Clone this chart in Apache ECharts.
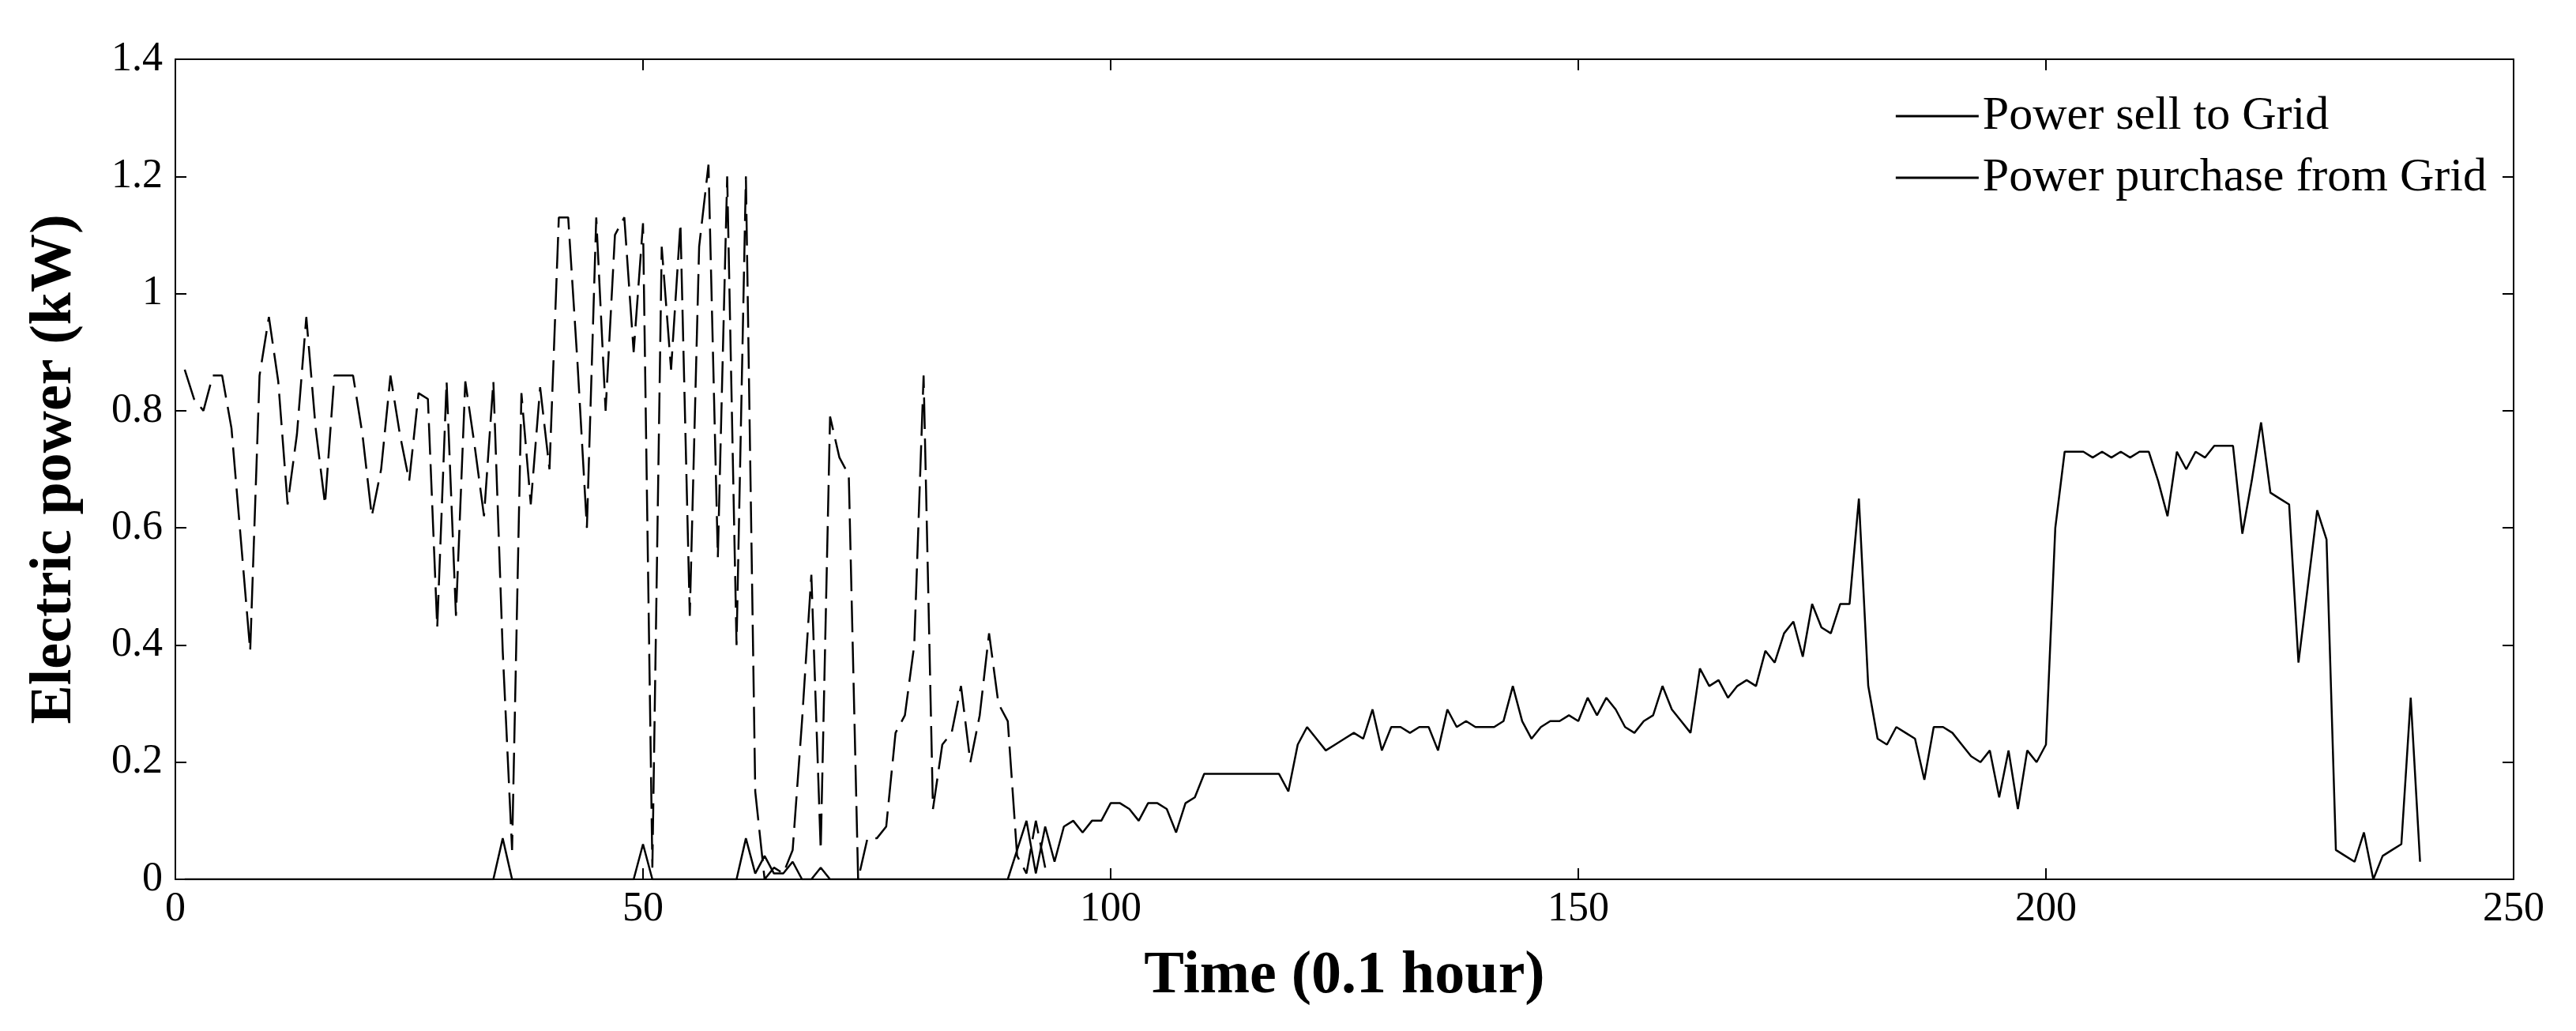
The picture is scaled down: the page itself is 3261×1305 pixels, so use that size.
<!DOCTYPE html>
<html>
<head>
<meta charset="utf-8">
<script src="https://cdn.jsdelivr.net/npm/echarts@6/dist/echarts.min.js"></script>
<style>html,body{margin:0;background:#fff}#chart{width:3261px;height:1305px}</style>
</head>
<body>
<div id="chart"></div>
<script>
// power sold to grid, time steps 1..93 (zero afterwards)
var sellValues = [0.87,0.82,0.80,0.86,0.86,0.77,0.58,0.39,0.86,0.96,
  0.85,0.64,0.76,0.96,0.77,0.64,0.86,0.86,0.86,0.76,
  0.62,0.70,0.86,0.76,0.68,0.83,0.82,0.43,0.85,0.45,
  0.85,0.74,0.62,0.85,0.39,0.05,0.83,0.64,0.84,0.70,
  1.13,1.13,0.88,0.60,1.13,0.80,1.10,1.13,0.90,1.12,
  0.02,1.08,0.87,1.12,0.45,1.08,1.22,0.55,1.20,0.40,
  1.20,0.15,0.00,0.02,0.01,0.05,0.27,0.52,0.05,0.79,
  0.72,0.69,0.00,0.07,0.07,0.09,0.25,0.28,0.40,0.86,
  0.12,0.23,0.25,0.33,0.20,0.28,0.42,0.30,0.27,0.04,
  0.01,0.10,0.02];
// power purchased from grid, time steps 1..240
var buyValues = [0,0,0,0,0,0,0,0,0,0, 0,0,0,0,0,0,0,0,0,0,
  0,0,0,0,0,0,0,0,0,0, 0,0,0,0,0.07,0,0,0,0,0,
  0,0,0,0,0,0,0,0,0,0.06, 0,0,0,0,0,0,0,0,0,0,
  0.07,0.01,0.04,0.01,0.01,0.03,0,0,0.02,0, 0,0,0,0,0,0,0,0,0,0,
  0,0,0,0,0,0,0,0,0,0.05,
  0.10,0.01,0.09,0.03,0.09,0.10,0.08,0.10,0.10,0.13,
  0.13,0.12,0.10,0.13,0.13,0.12,0.08,0.13,0.14,0.18,
  0.18,0.18,0.18,0.18,0.18,0.18,0.18,0.18,0.15,0.23,
  0.26,0.24,0.22,0.23,0.24,0.25,0.24,0.29,0.22,0.26,
  0.26,0.25,0.26,0.26,0.22,0.29,0.26,0.27,0.26,0.26,
  0.26,0.27,0.33,0.27,0.24,0.26,0.27,0.27,0.28,0.27,
  0.31,0.28,0.31,0.29,0.26,0.25,0.27,0.28,0.33,0.29,
  0.27,0.25,0.36,0.33,0.34,0.31,0.33,0.34,0.33,0.39,
  0.37,0.42,0.44,0.38,0.47,0.43,0.42,0.47,0.47,0.65,
  0.33,0.24,0.23,0.26,0.25,0.24,0.17,0.26,0.26,0.25,
  0.23,0.21,0.20,0.22,0.14,0.22,0.12,0.22,0.20,0.23,
  0.60,0.73,0.73,0.73,0.72,0.73,0.72,0.73,0.72,0.73,
  0.73,0.68,0.62,0.73,0.70,0.73,0.72,0.74,0.74,0.74,
  0.59,0.68,0.78,0.66,0.65,0.64,0.37,0.50,0.63,0.58,
  0.05,0.04,0.03,0.08,0.00,0.04,0.05,0.06,0.31,0.03];
var seriesNames = ['Power sell to Grid', 'Power purchase from Grid'];

function toPairs(arr) {
  return arr.map(function (v, i) { return [i + 1, v]; });
}

var font = 'Liberation Serif';
var chart = echarts.init(document.getElementById('chart'));
var tickStyle = {show: true, inside: true, length: 14, lineStyle: {color: '#000', width: 2}};
var axisLine = {show: true, onZero: false, lineStyle: {color: '#000', width: 2}};
chart.setOption({
  animation: false,
  textStyle: {fontFamily: font, color: '#000'},
  grid: {left: 222, right: 79, top: 75, bottom: 192},
  legend: {
    orient: 'vertical', right: 108, top: 112, itemGap: 18,
    itemWidth: 105, itemHeight: 3, icon: 'rect',
    textStyle: {fontFamily: font, fontSize: 60, color: '#000'},
    data: seriesNames
  },
  xAxis: [{
    type: 'value', min: 0, max: 250, interval: 50,
    name: 'Time (0.1 hour)', nameLocation: 'middle', nameGap: 85,
    nameTextStyle: {fontFamily: font, fontSize: 76, fontWeight: 'bold'},
    axisLine: axisLine, axisTick: tickStyle, splitLine: {show: false},
    axisLabel: {fontSize: 52, color: '#000', margin: 12}
  }, {
    type: 'value', position: 'top', min: 0, max: 250, interval: 50,
    axisLine: axisLine, axisTick: tickStyle, axisLabel: {show: false}, splitLine: {show: false}
  }],
  yAxis: [{
    type: 'value', min: 0, max: 1.4, interval: 0.2,
    name: 'Electric power (kW)', nameLocation: 'middle', nameGap: 115,
    nameTextStyle: {fontFamily: font, fontSize: 74, fontWeight: 'bold'},
    axisLine: axisLine, axisTick: tickStyle, splitLine: {show: false},
    axisLabel: {fontSize: 52, color: '#000', margin: 16}
  }, {
    type: 'value', position: 'right', min: 0, max: 1.4, interval: 0.2,
    axisLine: axisLine, axisTick: tickStyle, axisLabel: {show: false}, splitLine: {show: false}
  }],
  series: [{
    name: seriesNames[0], type: 'line', showSymbol: false,
    data: toPairs(sellValues),
    lineStyle: {color: '#000', width: 2.5, type: [40, 12]},
    itemStyle: {color: '#000'}
  }, {
    name: seriesNames[1], type: 'line', showSymbol: false,
    data: toPairs(buyValues),
    lineStyle: {color: '#000', width: 2.5},
    itemStyle: {color: '#000'}
  }]
});
</script>
</body>
</html>
